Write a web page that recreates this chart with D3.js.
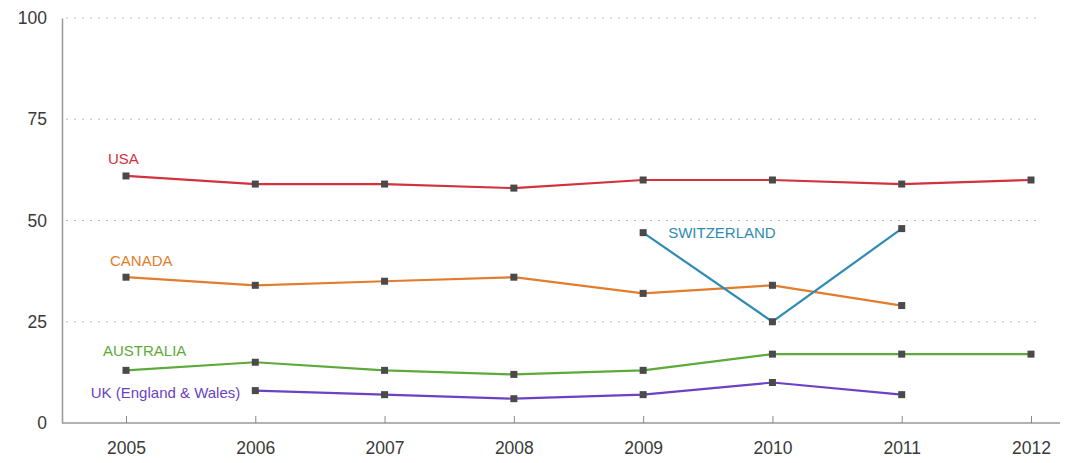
<!DOCTYPE html>
<html>
<head>
<meta charset="utf-8">
<script src="https://cdn.jsdelivr.net/npm/d3@7"></script>
<style>
  body { margin: 0; background: #fff; }
  svg { display: block; font-family: "Liberation Sans", Arial, sans-serif; }
</style>
</head>
<body>
<svg id="chart" width="1085" height="463"></svg>
<script>
// chart data
const years = [2005, 2006, 2007, 2008, 2009, 2010, 2011, 2012];
const yTicks = [0, 25, 50, 75, 100];

const usa = [61, 59, 59, 58, 60, 60, 59, 60];
const canada = [36, 34, 35, 36, 32, 34, 29, null];
const switzerland = [null, null, null, null, 47, 25, 48, null];
const australia = [13, 15, 13, 12, 13, 17, 17, 17];
const ukEnglandWales = [null, 8, 7, 6, 7, 10, 7, null];

const seriesNames = ['USA', 'CANADA', 'SWITZERLAND', 'AUSTRALIA', 'UK (England & Wales)'];
const seriesValues = [usa, canada, switzerland, australia, ukEnglandWales];

// styling per series (label anchor is given as year + value)
const seriesStyle = [
  { color: '#d2323c', labelYear: 2005, labelValue: 64, dx: -18, anchor: 'start' },
  { color: '#e37c2c', labelYear: 2005, labelValue: 38.8, dx: -16, anchor: 'start' },
  { color: '#2e8bb3', labelYear: 2009, labelValue: 45.7, dx: 25, anchor: 'start' },
  { color: '#5da93a', labelYear: 2005, labelValue: 16.5, dx: -23, anchor: 'start' },
  { color: '#6b42c4', labelYear: 2006, labelValue: 6.2, dx: -15, anchor: 'end' }
];

const svg = d3.select('#chart');
const margin = { left: 62, right: 25, top: 18, bottom: 40 };
const width = 1085;
const height = 463;

const x = d3.scaleLinear()
  .domain([2005, 2012])
  .range([126, 1031]);

const y = d3.scaleLinear()
  .domain([0, 100])
  .range([height - margin.bottom, margin.top]);

// dotted grid lines
svg.append('g')
  .selectAll('line')
  .data(yTicks.filter((d) => d > 0))
  .join('line')
  .attr('x1', margin.left + 4)
  .attr('x2', 1042)
  .attr('y1', (d) => y(d))
  .attr('y2', (d) => y(d))
  .style('stroke', '#bbb')
  .style('stroke-width', 1.2)
  .style('stroke-dasharray', '2,6');

// y axis
const yAxis = svg.append('g')
  .attr('transform', `translate(${margin.left},0)`)
  .call(d3.axisLeft(y).tickValues(yTicks).tickSize(0).tickPadding(15));
yAxis.select('.domain').style('stroke', '#999').style('stroke-width', 1.5);
yAxis.selectAll('text')
  .style('font-size', '17.5px')
  .style('fill', '#3a3a3a');

// x axis
const xAxis = svg.append('g')
  .attr('transform', `translate(0,${y(0)})`)
  .call(d3.axisTop(x).tickValues(years).tickSize(7).tickFormat(d3.format('d')));
xAxis.select('.domain')
  .attr('d', `M${margin.left},0H${width - margin.right}`)
  .style('stroke', '#999')
  .style('stroke-width', 1.5);
xAxis.selectAll('.tick line').style('stroke', '#888');
xAxis.selectAll('text')
  .attr('y', 31)
  .style('font-size', '17.5px')
  .style('fill', '#3a3a3a');

const line = d3.line()
  .defined((d) => d.v !== null)
  .x((d) => x(d.year))
  .y((d) => y(d.v));

seriesValues.forEach((values, i) => {
  const pts = values.map((v, j) => ({ year: years[j], v }));
  const style = seriesStyle[i];
  const g = svg.append('g');

  g.append('path')
    .datum(pts)
    .attr('d', line)
    .style('fill', 'none')
    .style('stroke', style.color)
    .style('stroke-width', 2.2);

  g.selectAll('rect')
    .data(pts.filter((d) => d.v !== null))
    .join('rect')
    .attr('x', (d) => x(d.year) - 3.5)
    .attr('y', (d) => y(d.v) - 3.5)
    .attr('width', 7)
    .attr('height', 7)
    .style('fill', '#4a4a4a');

  g.append('text')
    .attr('x', x(style.labelYear) + style.dx)
    .attr('y', y(style.labelValue))
    .attr('text-anchor', style.anchor)
    .style('font-size', '15px')
    .style('fill', style.color)
    .text(seriesNames[i]);
});
</script>
</body>
</html>
